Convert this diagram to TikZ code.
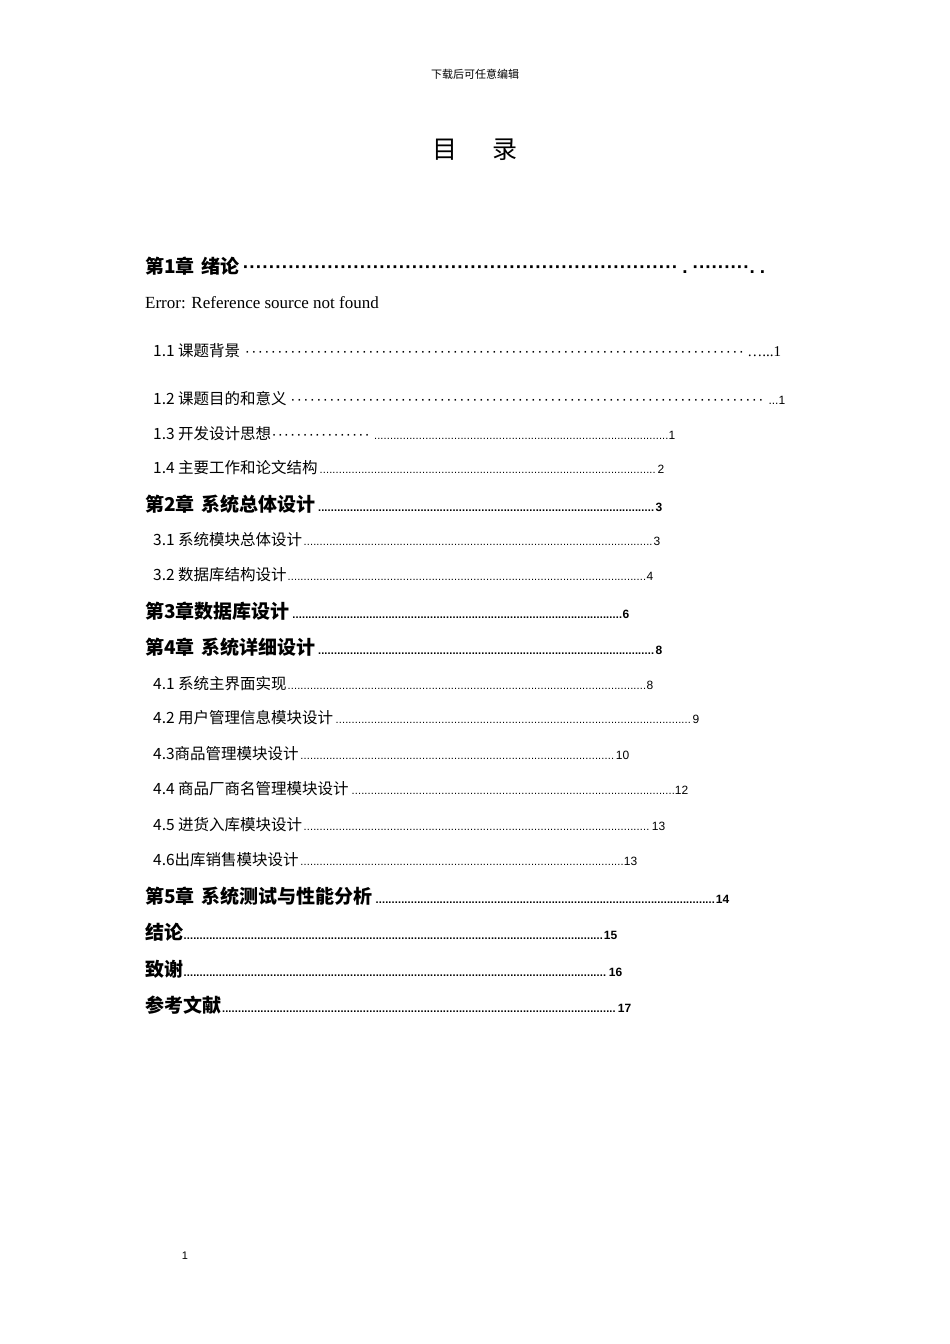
\documentclass[tikz,border=0pt]{standalone}
\usepackage{fontspec}
\setmainfont{Liberation Serif}
\newfontfamily\cjk{Noto Sans CJK SC}
\newfontfamily\dotf{Liberation Sans}
\newcommand{\mydots}{\leaders\hbox to 3.2pt{\hss\dotf\fontsize{11}{11}\selectfont .\hss}\hfill}
\newcommand{\middots}[1]{\leaders\hbox to #1{\hss\dotf ·\hss}\hfill}
\newcommand{\bigh}{\cjk\bfseries\fontsize{19}{19}\selectfont}
\newcommand{\subh}{\cjk\fontsize{15.5}{15.5}\selectfont}
\newcommand{\tocent}[7]{\node[ent,text width=#3-#1] (#7) at (#1,#2) {\strut #4#5\mydots{\dotf\fontsize{12}{12}\selectfont #6}};}
\begin{document}
\begin{tikzpicture}[x=1pt,y=-1pt,
  ent/.style={anchor=west,inner sep=0pt,align=left}]
\useasboundingbox (0,0) rectangle (950,1344);
\node (hdr) at (475,74) {\cjk\fontsize{11}{11}\selectfont 下载后可任意编辑};
\node (title) at (475,150) {\cjk\fontsize{25}{25}\selectfont 目\hspace{35pt}录};
\node[ent,text width=620] (c1) at (145,266) {\bigh 第1章\ \ 绪论\middots{6.5pt}{\dotf . ·········. .}};
\node[ent] (err) at (145,303) {\fontsize{17}{17}\selectfont Error: Reference source not found};
\node[ent,text width=628] (s11) at (153,351) {\subh 1.1 课题背景\middots{6.5pt}{\fontsize{15}{15}\selectfont\rmfamily …...1}};
\node[ent,text width=632] (s12) at (153,399) {\subh 1.2\ 课题目的和意义\middots{6.5pt}{\dotf\fontsize{12}{12}\selectfont ...1}};
\node[ent,text width=522] (s13) at (153,434) {\subh 1.3\ 开发设计思想\hbox to 100pt{\middots{6.2pt}}\mydots{\dotf\fontsize{12}{12}\selectfont 1}};
\tocent{153}{469}{664}{\subh}{1.4\ 主要工作和论文结构}{2}{s14}
\tocent{145}{505}{662}{\bigh}{第2章\ \ 系统总体设计}{3}{c2}
\tocent{153}{541}{660}{\subh}{3.1\ 系统模块总体设计}{3}{s31}
\tocent{153}{576}{653}{\subh}{3.2\ 数据库结构设计}{4}{s32}
\tocent{145}{612}{629}{\bigh}{第3章数据库设计}{6}{c3}
\tocent{145}{648}{662}{\bigh}{第4章\ \ 系统详细设计}{8}{c4}
\tocent{153}{685}{653}{\subh}{4.1\ 系统主界面实现}{8}{s41}
\tocent{153}{719}{699}{\subh}{4.2\ 用户管理信息模块设计}{9}{s42}
\tocent{153}{755}{629}{\subh}{4.3商品管理模块设计}{10}{s43}
\tocent{153}{790}{688}{\subh}{4.4\ 商品厂商名管理模块设计}{12}{s44}
\tocent{153}{826}{665}{\subh}{4.5\ 进货入库模块设计}{13}{s45}
\tocent{153}{861}{637}{\subh}{4.6出库销售模块设计}{13}{s46}
\tocent{145}{897}{729}{\bigh}{第5章\ \ 系统测试与性能分析}{14}{c5}
\tocent{145}{933}{617}{\bigh}{结论}{15}{jl}
\tocent{145}{970}{622}{\bigh}{致谢}{16}{zx}
\tocent{145}{1006}{631}{\bigh}{参考文献}{17}{ck}
\node (pg) at (185,1256) {\dotf\fontsize{11}{11}\selectfont 1};
\end{tikzpicture}
\end{document}
